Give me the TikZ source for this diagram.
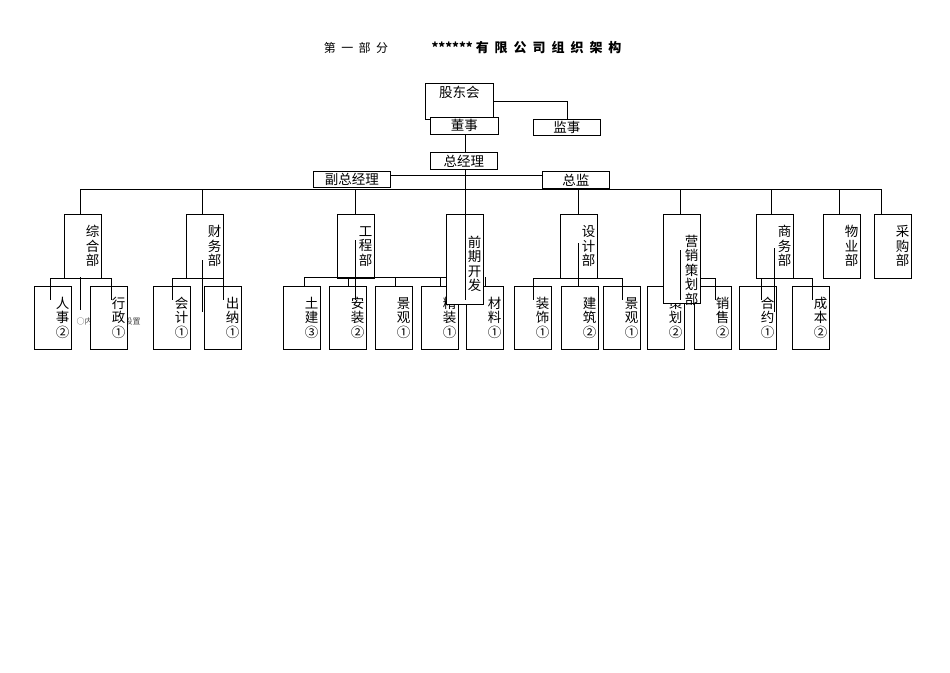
\documentclass[tikz,border=0pt]{standalone}
\usepackage{fontspec}
\newfontfamily\cjk{Noto Sans CJK SC}
\begin{document}
\begin{tikzpicture}[x=1pt,y=-1pt,
  bx/.style={draw,fill=white,line width=0.6pt,anchor=north west,inner sep=0pt,font=\cjk\fontsize{13.5}{14.5}\selectfont,align=center},
  vb/.style={bx,align=right,text width=33},
  ln/.style={line width=0.6pt}]
\useasboundingbox (0,0) rectangle (950,672);
\node[font=\cjk\fontsize{12}{13}\selectfont] (t1) at (356,48) {第\ \ 一\ \ 部\ \ 分};
\node[font=\cjk\bfseries\fontsize{13}{14}\selectfont,anchor=west] (t2) at (428,48) {******\ 有\ \ 限\ \ 公\ \ 司\ \ 组\ \ 织\ \ 架\ \ 构};
% top
\node[bx,minimum width=68,minimum height=36,text depth=20pt] (gd) at (425,83) {股东会};
\node[bx,minimum width=68,minimum height=17] (ds) at (430,117) {董事};
\node[bx,minimum width=67,minimum height=16] (js) at (533,119) {监事};
\node[bx,minimum width=67,minimum height=17] (zjl) at (430,152) {总经理};
\node[bx,minimum width=77,minimum height=16] (fz) at (313,171) {副总经理};
\node[bx,minimum width=67,minimum height=17] (zj) at (542,171) {总监};
\draw[ln] (gd.east |- 0,101) -| (js.north);
\draw[ln] (fz.east |- 0,175) -- (zj.west |- 0,175);
\coordinate (bl) at (80,189); \coordinate (br) at (881,189);
\draw[ln] (bl) -- (br);
% departments
\foreach \n/\x/\t in {zh/64/综\\合\\部, cw/186/财\\务\\部, gc/337/工\\程\\部, sj/560/设\\计\\部, sw/756/商\\务\\部, wy/823/物\\业\\部, cg/874/采\\购\\部}{
  \node[vb,minimum width=37,minimum height=64] (\n) at (\x,214) {\t};
}
\foreach \x in {80,202,355,578,680,771,839,881}{
  \draw[ln] (\x,189) -- (\x,214);
}
% note (partly covered by 行政 box)
\node[font=\cjk\fontsize{8}{9}\selectfont,text=black!70,anchor=west] (note) at (73,321) {○内为编制的设置};
% sub boxes
\foreach \n/\x/\t in {rs/34/人\\事\\②, xz/90/行\\政\\①, kj/153/会\\计\\①, cn/204/出\\纳\\①, tj/283/土\\建\\③, az/329/安\\装\\②, jg/375/景\\观\\①, jz/421/精\\装\\①, cl/466/材\\料\\①, zs/514/装\\饰\\①, jzh/561/建\\筑\\②, jg2/603/景\\观\\①, ch/647/策\\划\\②, xs/694/销\\售\\②, hy/739/合\\约\\①, cb/792/成\\本\\②}{
  \node[vb,minimum width=37,minimum height=63] (\n) at (\x,286) {\t};
}
% sub buses
\draw[ln] (50,278) -| (50,300); \draw[ln] (50,278) -| (111,300); \draw[ln] (80,277) -- (80,310);
\draw[ln] (172,278) -| (172,300); \draw[ln] (172,278) -| (223,300); \draw[ln] (202,260) -- (202,312);
\draw[ln] (304,277) -| (304,286); \draw[ln] (304,277) -- (458,277);
\foreach \x in {348,395,440,485}{\draw[ln] (\x,277) -- (\x,286);}
\draw[ln] (355,240) -- (355,300);
\node[vb,minimum width=37,minimum height=90,text depth=36pt] (qq) at (446,214) {前\\期\\开\\发};
\draw[ln] (ds.south -| qq.north) -- (zjl.north -| qq.north);
\draw[ln] (zjl.south -| qq.north) -- (qq.north) -- ++(0,86);
\draw[ln] (533,278) -| (533,300); \draw[ln] (533,278) -| (622,300); \draw[ln] (578,243) -- (578,286);
\draw[ln] (664,278) -| (664,300); \draw[ln] (664,278) -| (715,300);
\node[vb,minimum width=37,minimum height=89,text depth=36pt] (yx) at (663,214) {营\\销\\策\\划\\部};
\draw[ln] (680,250) -- (680,300);
\draw[ln] (761,278) -| (761,300); \draw[ln] (761,278) -| (812,300); \draw[ln] (774,248) -- (774,312);
\end{tikzpicture}
\end{document}
